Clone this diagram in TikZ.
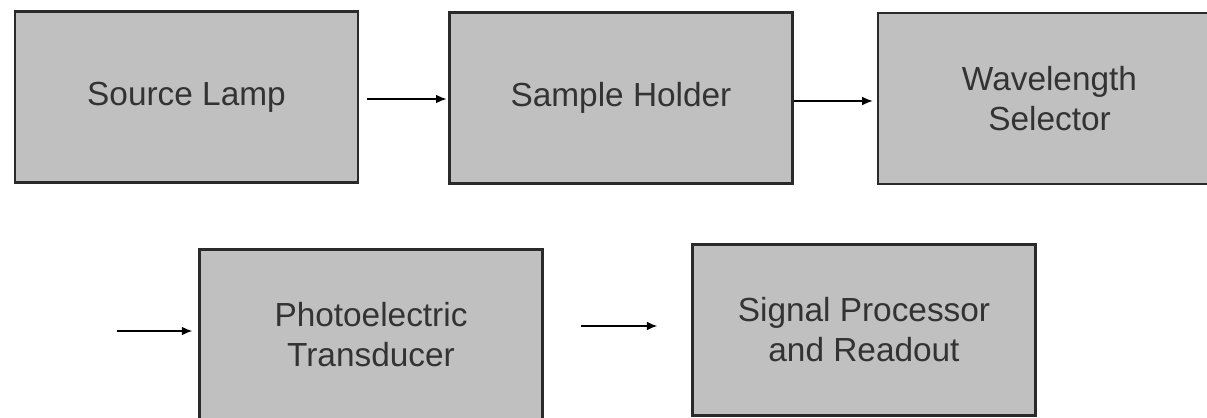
\documentclass[tikz,border=0pt]{standalone}
\usepackage{fontspec}
\setmainfont{Liberation Sans}
\usepackage{xcolor}
\usetikzlibrary{positioning,arrows.meta,calc}

\definecolor{boxgray}{HTML}{C0C0C0}
\definecolor{edgegray}{HTML}{2A2A2A}

\tikzset{
	stage/.style={draw=edgegray,fill=boxgray,line width=1.4pt,
		minimum width=6.86cm,minimum height=3.42cm,inner sep=0pt,
		align=center,font=\fontsize{19}{22.8}\selectfont,text=black!80},
	flow/.style={-{Latex[length=6pt,width=5pt]},line width=0.9pt}
}

\begin{document}
\begin{tikzpicture}[x=0.02cm,y=0.02cm]
		\clip (0,0) rectangle (1207,417);
		\fill[white] (0,0) rectangle (1207,417);
		
		% top row
		\node[stage] (lamp) at (186.5,320) {Source Lamp};
		\node[stage] (holder) at (621,319) {Sample Holder};
		\node[stage] (selector) at (1049.5,318.5) {Wavelength\\Selector};
		
		% bottom row
		\node[stage] (transducer) at (371,82) {Photoelectric\\Transducer};
		\node[stage] (readout) at (864,87) {Signal Processor\\and Readout};
		\coordinate (feed) at (117,86);
		
		\coordinate (a1) at ($(lamp.east)+(0,-2)$);
		\coordinate (a2) at ($(holder.east)+(0,-3)$);
		\coordinate (a4) at ($(transducer.east)+(0,9)$);
		
		\draw[flow,shorten <=4.5pt,shorten >=1pt] (a1) -- (a1 -| holder.west);
		\draw[flow,shorten >=2.3pt] (a2) -- (a2 -| selector.west);
		\draw[flow,shorten >=3.4pt] (feed) -- (feed -| transducer.west);
		\draw[flow,shorten <=21.5pt,shorten >=19.3pt] (a4) -- (a4 -| readout.west);
\end{tikzpicture}
\end{document}
